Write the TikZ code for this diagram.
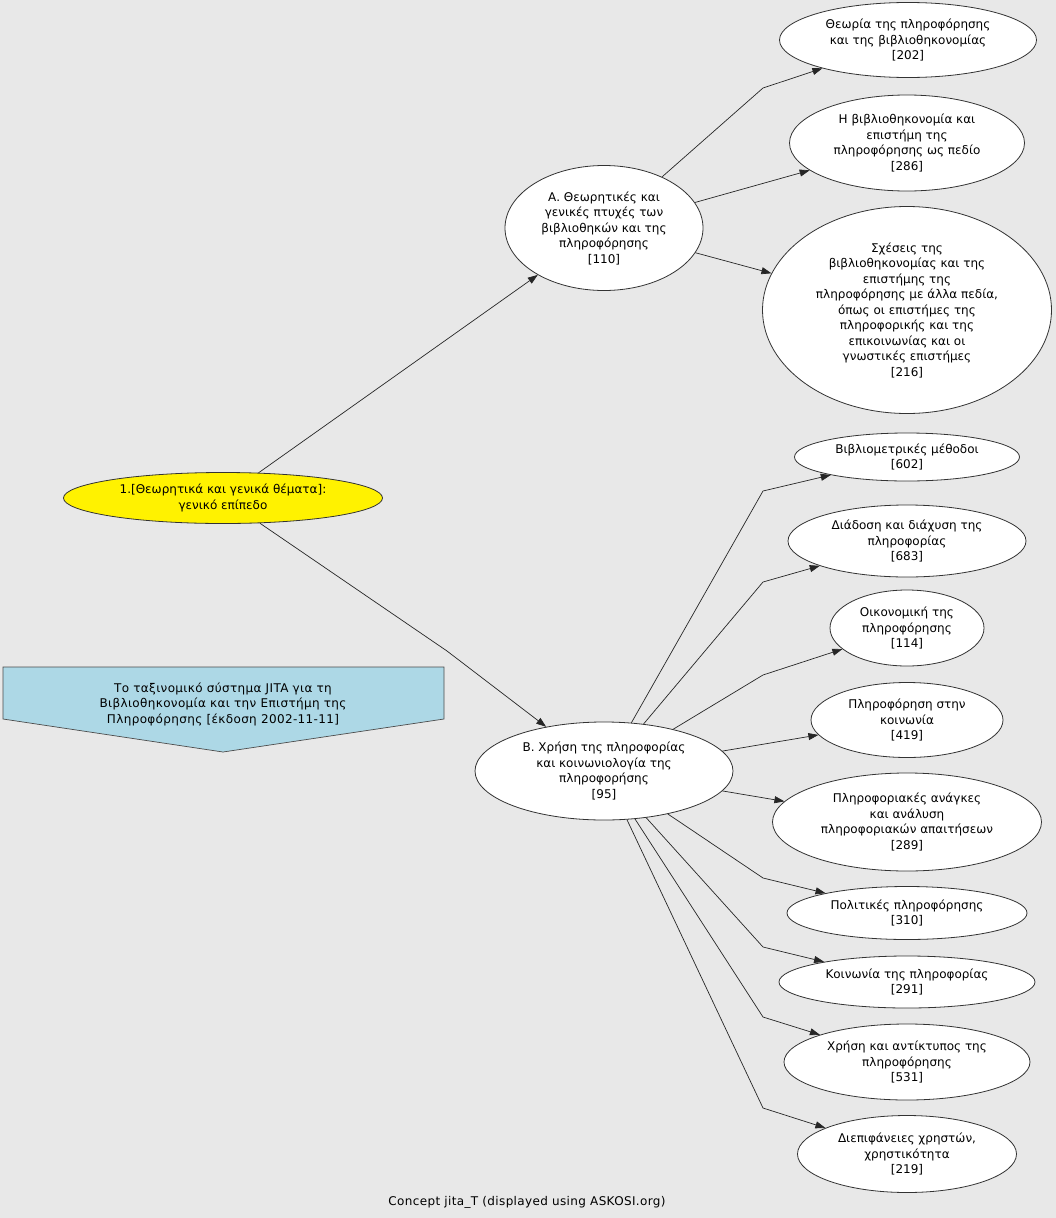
\documentclass[tikz,border=0pt]{standalone}
\usepackage{fontspec}
\setmainfont{DejaVu Sans}
\newfontfamily\widefont[LetterSpace=3]{DejaVu Sans}
\usepackage{xcolor}
\usetikzlibrary{shapes.geometric,arrows.meta}

\definecolor{bggray}{HTML}{E8E8E8}
\definecolor{legendblue}{HTML}{ADD8E6}

\tikzset{
  concept/.style={ellipse,draw=black!80,fill=white,line width=0.8pt,align=center,inner sep=0pt,font=\fontsize{12}{15.5}\selectfont},
  link/.style={draw=black!85,line width=0.7pt,-{Triangle[length=10pt,width=7pt]}},
}

\begin{document}
\begin{tikzpicture}[x=1pt,y=-1pt]
\useasboundingbox[fill=bggray] (0,0) rectangle (1056,1218);

% top concept and legend
\node[concept,fill=yellow,minimum width=319pt,minimum height=51pt] (root) at (223,498) {1.[Θεωρητικά και γενικά θέματα]:\\γενικό επίπεδο};
\filldraw[fill=legendblue,draw=black!70,line width=0.7pt] (3,667) -- (444,667) -- (444,719) -- (223,752) -- (3,719) -- cycle;
\node[align=center,font=\widefont\fontsize{12}{15.5}\selectfont] (legend) at (223,704) {Το ταξινομικό σύστημα JITA για τη\\Βιβλιοθηκονομία και την Επιστήμη της\\Πληροφόρησης [έκδοση 2002-11-11]};

% branch A
\node[concept,minimum width=198pt,minimum height=125pt] (A) at (604,228) {Α. Θεωρητικές και\\γενικές πτυχές των\\βιβλιοθηκών και της\\πληροφόρησης\\{[110]}};
\node[concept,minimum width=257pt,minimum height=75pt] (n202) at (908,40) {Θεωρία της πληροφόρησης\\και της βιβλιοθηκονομίας\\{[202]}};
\node[concept,minimum width=235pt,minimum height=96pt] (n286) at (907,143) {Η βιβλιοθηκονομία και\\επιστήμη της\\πληροφόρησης ως πεδίο\\{[286]}};
\node[concept,minimum width=289pt,minimum height=207pt] (n216) at (907,310) {Σχέσεις της\\βιβλιοθηκονομίας και της\\επιστήμης της\\πληροφόρησης με άλλα πεδία,\\όπως οι επιστήμες της\\πληροφορικής και της\\επικοινωνίας και οι\\γνωστικές επιστήμες\\{[216]}};

% branch B
\node[concept,minimum width=258pt,minimum height=98pt] (B) at (604,771) {Β. Χρήση της πληροφορίας\\και κοινωνιολογία της\\πληροφορήσης\\{[95]}};
\node[concept,minimum width=225pt,minimum height=48pt] (n602) at (907,457) {Βιβλιομετρικές μέθοδοι\\{[602]}};
\node[concept,minimum width=238pt,minimum height=72pt] (n683) at (907,541) {Διάδοση και διάχυση της\\πληροφορίας\\{[683]}};
\node[concept,minimum width=154pt,minimum height=76pt] (n114) at (907,628) {Οικονομική της\\πληροφόρησης\\{[114]}};
\node[concept,minimum width=192pt,minimum height=75pt] (n419) at (907,720) {Πληροφόρηση στην\\κοινωνία\\{[419]}};
\node[concept,minimum width=269pt,minimum height=98pt] (n289) at (907,822) {Πληροφοριακές ανάγκες\\και ανάλυση\\πληροφοριακών απαιτήσεων\\{[289]}};
\node[concept,minimum width=240pt,minimum height=53pt] (n310) at (907,913) {Πολιτικές πληροφόρησης\\{[310]}};
\node[concept,minimum width=256pt,minimum height=52pt] (n291) at (907,982) {Κοινωνία της πληροφορίας\\{[291]}};
\node[concept,minimum width=246pt,minimum height=76pt] (n531) at (907,1062) {Χρήση και αντίκτυπος της\\πληροφόρησης\\{[531]}};
\node[concept,minimum width=219pt,minimum height=77pt] (n219) at (907,1154) {Διεπιφάνειες χρηστών,\\χρηστικότητα\\{[219]}};

\node[font=\widefont\fontsize{12}{14}\selectfont] (caption) at (527,1202) {Concept jita\_T (displayed using ASKOSI.org)};

% bend points
\coordinate (kB) at (447,651);
\coordinate (k202) at (763,88);
\coordinate (k602) at (763,491);
\coordinate (k683) at (763,582);
\coordinate (k114) at (763,675);
\coordinate (k310) at (763,878);
\coordinate (k291) at (763,947);
\coordinate (k531) at (763,1017);
\coordinate (k219) at (763,1108);

% links
\draw[link] (root) -- (A);
\draw[link] (root) -- (kB) -- (B);
\draw[link] (A) -- (k202) -- (n202);
\draw[link] (A) -- (n286);
\draw[link] (A) -- (n216);
\draw[link] (B) -- (k602) -- (n602);
\draw[link] (B) -- (k683) -- (n683);
\draw[link] (B) -- (k114) -- (n114);
\draw[link] (B) -- (n419);
\draw[link] (B) -- (n289);
\draw[link] (B) -- (k310) -- (n310);
\draw[link] (B) -- (k291) -- (n291);
\draw[link] (B) -- (k531) -- (n531);
\draw[link] (B) -- (k219) -- (n219);
\end{tikzpicture}
\end{document}
